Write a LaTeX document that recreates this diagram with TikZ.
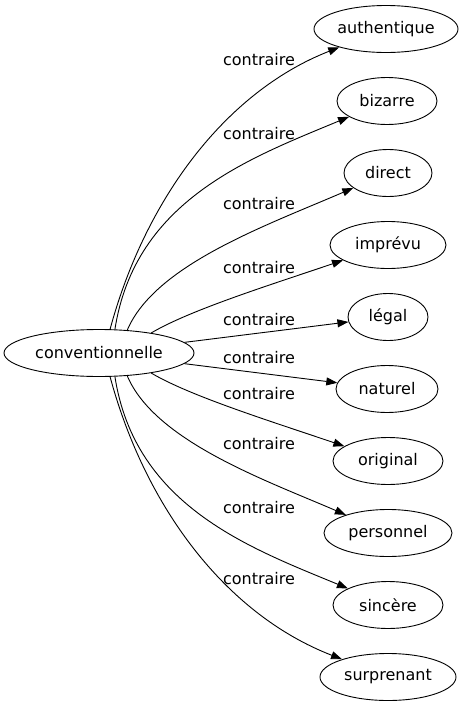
\documentclass[tikz,border=0pt]{standalone}
\usepackage{fontspec}
\setmainfont{DejaVu Sans}
\usetikzlibrary{arrows.meta,shapes.geometric}

\begin{document}
\begin{tikzpicture}[x=1pt,y=-1pt,
  mot/.style={draw,ellipse,line width=0.9pt,minimum height=47pt,inner sep=0pt,font=\fontsize{16}{19}\selectfont},
  etiq/.style={anchor=base,inner sep=0pt,font=\fontsize{16}{19}\selectfont},
  fleche/.style={-{Triangle[length=11pt,width=8pt]},line width=0.9pt}
]
\useasboundingbox (0,0) rectangle (468,707);
\node[mot,minimum width=190pt] (conv) at (99,353) {conventionnelle};
\node[mot,minimum width=144pt] (authentique) at (386,29) {authentique};
\node[mot,minimum width=100pt] (bizarre) at (387,101) {bizarre};
\node[mot,minimum width=88pt] (direct) at (388,173) {direct};
\node[mot,minimum width=116pt] (imprevu) at (388,245) {imprévu};
\node[mot,minimum width=80pt] (legal) at (388,317) {légal};
\node[mot,minimum width=102pt] (naturel) at (387,389) {naturel};
\node[mot,minimum width=110pt] (original) at (388,461) {original};
\node[mot,minimum width=128pt] (personnel) at (388,533) {personnel};
\node[mot,minimum width=110pt] (sincere) at (388,605) {sincère};
\node[mot,minimum width=136pt] (surprenant) at (388,677) {surprenant};
\draw[fleche] (conv.65) .. controls (145,200) and (225,92) .. (authentique);
\draw[fleche] (conv.56) .. controls (135,200) and (250,158) .. (bizarre);
\draw[fleche] (conv.39) .. controls (155,265) and (265,226) .. (direct);
\draw[fleche] (conv.21) .. controls (190,310) and (270,285) .. (imprevu);
\draw[fleche] (conv) -- (legal);
\draw[fleche] (conv) -- (naturel);
\draw[fleche] (conv.-21) .. controls (190,396) and (270,421) .. (original);
\draw[fleche] (conv.-39) .. controls (155,441) and (265,480) .. (personnel);
\draw[fleche] (conv.-56) .. controls (135,506) and (250,548) .. (sincere);
\draw[fleche] (conv.-65) .. controls (145,506) and (225,614) .. (surprenant);
% edge labels
\node[etiq] (e1) at (259,65) {contraire};
\node[etiq] (e2) at (259,139) {contraire};
\node[etiq] (e3) at (259,209) {contraire};
\node[etiq] (e4) at (259,273) {contraire};
\node[etiq] (e5) at (259,325) {contraire};
\node[etiq] (e6) at (259,363) {contraire};
\node[etiq] (e7) at (259,399) {contraire};
\node[etiq] (e8) at (259,449) {contraire};
\node[etiq] (e9) at (259,513) {contraire};
\node[etiq] (e10) at (259,584) {contraire};
\end{tikzpicture}
\end{document}
